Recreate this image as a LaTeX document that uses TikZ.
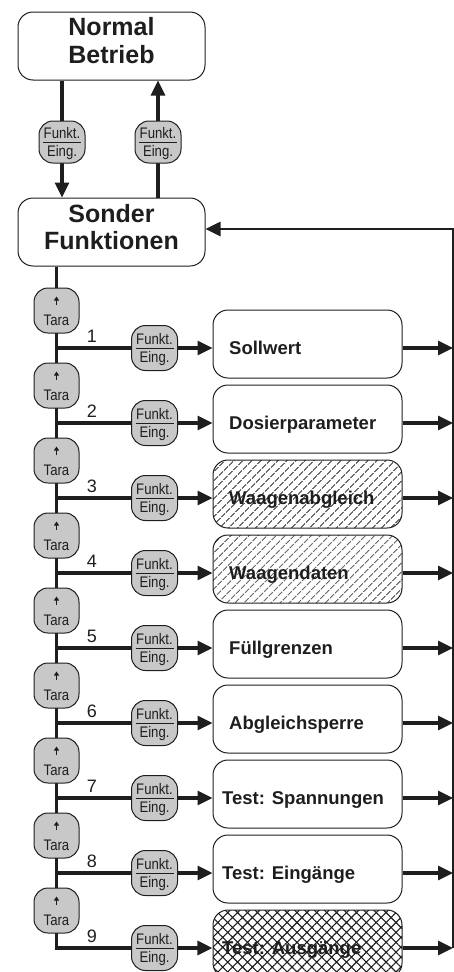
\documentclass[tikz,border=0pt]{standalone}
\usepackage{fontspec}
\setmainfont{Liberation Sans}
\newfontfamily\btnfont[FakeStretch=0.86]{Liberation Sans}
\usetikzlibrary{arrows.meta,patterns.meta,backgrounds}
\definecolor{btngray}{RGB}{200,200,200}
\definecolor{ink}{RGB}{30,30,30}
\begin{document}
\begin{tikzpicture}[x=1pt,y=-1pt,
  hdrbox/.style={draw=ink, line width=1pt, rounded corners=15pt, minimum width=187pt, minimum height=68pt, inner sep=0pt},
  hdrtext/.style={font=\bfseries\fontsize{25}{27.5}\selectfont, align=center, inner sep=0pt, text=ink},
  btnbase/.style={draw=ink, line width=1pt, fill=btngray, rounded corners=14pt, minimum width=46pt, minimum height=45pt, inner sep=0pt},
  fbtn/.style={btnbase, path picture={\draw[line width=0.8pt, ink] ([xshift=4pt]path picture bounding box.west) -- ([xshift=-4pt]path picture bounding box.east);}},
  taraopt/.style={btnbase, minimum width=45pt},
  btntext/.style={font=\btnfont\fontsize{15.3}{17.5}\selectfont, align=center, inner sep=0pt, text=ink},
  boxnode/.style={draw=ink, line width=1pt, rounded corners=15pt, minimum width=189pt, minimum height=68pt, inner sep=0pt},
  boxtext/.style={font=\bfseries\fontsize{18.5}{20}\selectfont, anchor=base west, inner sep=0pt, text=ink},
  numtext/.style={font=\fontsize{18}{18}\selectfont, anchor=base, inner sep=0pt, text=ink},
  conn/.style={line width=3.2pt, ink},
  arr/.style={conn, -{Triangle[length=15pt,width=14pt]}},
  tarr/.style={line width=1pt, ink, -{Triangle[length=4pt,width=5pt]}},
  p0/.style={},
  p1/.style={pattern={Lines[angle=45,distance=6.4pt,line width=1pt]}, pattern color=ink},
  p2/.style={pattern={Hatch[angle=45,distance=7pt,line width=1.1pt]}, pattern color=ink},
  pat/.style={p#1}
]
\useasboundingbox (0,0) rectangle (454,972);
\clip (0,0) rectangle (454,972);

% header boxes
\node[hdrbox] (nb) at (111.5,46) {};
\node[hdrtext] (nbt) at (111.5,40.5) {Normal\\Betrieb};
\node[hdrbox] (sf) at (111.5,232) {};
\node[hdrtext] (sft) at (111.5,227) {Sonder\\Funktionen};

% top buttons
\node[fbtn, minimum height=42pt] (fa) at (62,142) {};
\node[btntext] (fat) at (62,143.5) {Funkt.\\Eing.};
\node[fbtn, minimum height=42pt] (fb) at (158,142) {};
\node[btntext] (fbt) at (158,143.5) {Funkt.\\Eing.};

% right return line
\coordinate (rt) at (453,229);
\coordinate (rb) at (453,948);

\foreach \i/\y/\txt/\tx/\p in {
  1/348/Sollwert/229/0,
  2/423/Dosierparameter/229/0,
  3/498/Waagenabgleich/229/1,
  4/573/Waagendaten/229/1,
  5/648/F{\"u}llgrenzen/229/0,
  6/723/Abgleichsperre/229/0,
  7/798/Test: Spannungen/222/0,
  8/873/Test: Eing{\"a}nge/222/0,
  9/948/Test: Ausg{\"a}nge/222/2}{
  % Tara button
  \node[taraopt] (t\i) at (56.5,\y-37.5) {};
  \draw[tarr] (56.5,\y-43) -- (56.5,\y-51.5);
  \node[btntext, anchor=base] (tt\i) at (56.5,\y-23) {Tara};
  % Funkt button
  \node[fbtn] (f\i) at (154.5,\y) {};
  \node[btntext] (ft\i) at (154.5,\y+1.45) {Funkt.\\Eing.};
  % number
  \node[numtext] (n\i) at (92,\y-5.5) {\i};
  % function box
  \node[boxnode, pat/.expanded=\p] (b\i) at (307.5,\y-4) {};
  \node[boxtext] (bt\i) at (\tx,\y+6) {\txt};
}

\begin{scope}[on background layer]
  \draw[arr] (nb.south -| fa) -- (sf.north -| fa);
  \draw[arr] (sf.north -| fb) -- (nb.south -| fb);
  \draw[conn] (sf.south -| t1) -- (f9 -| t9) -- (f9);
  \foreach \i in {1,...,8}{
    \draw[conn] (f\i -| t\i) -- (f\i);
  }
  \foreach \i in {1,...,9}{
    \draw[arr] (f\i.east) -- (f\i.east -| b\i.west);
    \draw[arr] (b\i.east |- f\i) -- (rt |- f\i);
  }
  \draw[line width=2.6pt, ink, -{Triangle[length=15pt,width=14pt]}] (rb) -- (rt) -- (sf.east |- rt);
\end{scope}
\end{tikzpicture}
\end{document}
